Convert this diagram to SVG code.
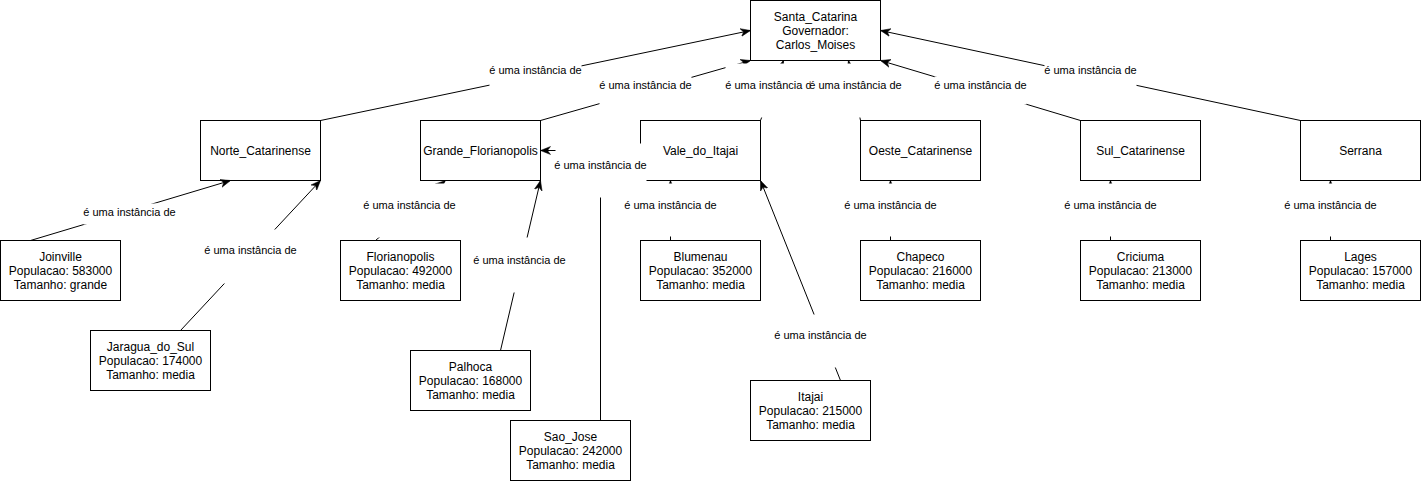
<svg xmlns="http://www.w3.org/2000/svg" width="1421" height="481" viewBox="0 0 1421 481">
<style>
.n rect{fill:#fff;stroke:#000;stroke-width:1}
.n text{font-family:"Liberation Sans",Arial,Helvetica,sans-serif;font-size:12px;fill:#000;text-anchor:middle}
.e{fill:none;stroke:#000;stroke-width:1;marker-end:url(#arr)}
.lb{fill:#fff;stroke:none}
.lt{font-family:"Liberation Sans",Arial,Helvetica,sans-serif;font-size:11px;fill:#000;text-anchor:middle}
</style>
<defs>
<marker id="arr" markerUnits="userSpaceOnUse" markerWidth="11" markerHeight="9" refX="10" refY="4.5" orient="auto" viewBox="0 0 11 9">
<path d="M0,0.5 L10,4.5 L0,8.5 L3,4.5 Z" fill="#000" stroke="#000" stroke-width="0.5"/>
</marker>
</defs>
<rect x="0" y="0" width="1421" height="481" fill="#fff"/>
<g transform="translate(0.5,0.5)">
<g id="Santa_Catarina" class="n"><rect x="750" y="0" width="130" height="60"/><text x="815" y="20">Santa_Catarina</text><text x="815" y="34">Governador:</text><text x="815" y="48">Carlos_Moises</text></g>
<g id="Norte_Catarinense" class="n"><rect x="200" y="120" width="120" height="60"/><text x="260" y="154">Norte_Catarinense</text></g>
<g id="Grande_Florianopolis" class="n"><rect x="420" y="120" width="120" height="60"/><text x="480" y="154">Grande_Florianopolis</text></g>
<g id="Vale_do_Itajai" class="n"><rect x="640" y="120" width="120" height="60"/><text x="700" y="154">Vale_do_Itajai</text></g>
<g id="Oeste_Catarinense" class="n"><rect x="860" y="120" width="120" height="60"/><text x="920" y="154">Oeste_Catarinense</text></g>
<g id="Sul_Catarinense" class="n"><rect x="1080" y="120" width="120" height="60"/><text x="1140" y="154">Sul_Catarinense</text></g>
<g id="Serrana" class="n"><rect x="1300" y="120" width="120" height="60"/><text x="1360" y="154">Serrana</text></g>
<g id="Joinville" class="n"><rect x="0" y="240" width="120" height="60"/><text x="60" y="260">Joinville</text><text x="60" y="274">Populacao: 583000</text><text x="60" y="288">Tamanho: grande</text></g>
<g id="Jaragua_do_Sul" class="n"><rect x="90" y="330" width="120" height="60"/><text x="150" y="350">Jaragua_do_Sul</text><text x="150" y="364">Populacao: 174000</text><text x="150" y="378">Tamanho: media</text></g>
<g id="Florianopolis" class="n"><rect x="340" y="240" width="120" height="60"/><text x="400" y="260">Florianopolis</text><text x="400" y="274">Populacao: 492000</text><text x="400" y="288">Tamanho: media</text></g>
<g id="Palhoca" class="n"><rect x="410" y="350" width="120" height="60"/><text x="470" y="370">Palhoca</text><text x="470" y="384">Populacao: 168000</text><text x="470" y="398">Tamanho: media</text></g>
<g id="Sao_Jose" class="n"><rect x="510" y="420" width="120" height="60"/><text x="570" y="440">Sao_Jose</text><text x="570" y="454">Populacao: 242000</text><text x="570" y="468">Tamanho: media</text></g>
<g id="Blumenau" class="n"><rect x="640" y="240" width="120" height="60"/><text x="700" y="260">Blumenau</text><text x="700" y="274">Populacao: 352000</text><text x="700" y="288">Tamanho: media</text></g>
<g id="Itajai" class="n"><rect x="750" y="380" width="120" height="60"/><text x="810" y="400">Itajai</text><text x="810" y="414">Populacao: 215000</text><text x="810" y="428">Tamanho: media</text></g>
<g id="Chapeco" class="n"><rect x="860" y="240" width="120" height="60"/><text x="920" y="260">Chapeco</text><text x="920" y="274">Populacao: 216000</text><text x="920" y="288">Tamanho: media</text></g>
<g id="Criciuma" class="n"><rect x="1080" y="240" width="120" height="60"/><text x="1140" y="260">Criciuma</text><text x="1140" y="274">Populacao: 213000</text><text x="1140" y="288">Tamanho: media</text></g>
<g id="Lages" class="n"><rect x="1300" y="240" width="120" height="60"/><text x="1360" y="260">Lages</text><text x="1360" y="274">Populacao: 157000</text><text x="1360" y="288">Tamanho: media</text></g>
<g id="connectors">
<path class="e" d="M320,120 L750,30"/><rect class="lb" x="489" y="62" width="92" height="27"/><text class="lt" x="535" y="73">é uma instância de</text>
<path class="e" d="M540,120 L750,60"/><rect class="lb" x="599" y="76" width="92" height="29"/><text class="lt" x="645" y="88">é uma instância de</text>
<path class="e" d="M760,120 L783,60"/><rect class="lb" x="725" y="63" width="92" height="54"/><text class="lt" x="771" y="88">é uma instância de</text>
<path class="e" d="M860,120 L848,60"/><rect class="lb" x="810" y="63" width="90" height="54"/><text class="lt" x="855" y="88">é uma instância de</text>
<path class="e" d="M1080,120 L880,60"/><rect class="lb" x="934" y="76" width="92" height="28"/><text class="lt" x="980" y="88">é uma instância de</text>
<path class="e" d="M1300,120 L880,30"/><rect class="lb" x="1044" y="62" width="92" height="26"/><text class="lt" x="1090" y="73">é uma instância de</text>
<path class="e" d="M30,240 L230,180"/><rect class="lb" x="83" y="203" width="92" height="21"/><text class="lt" x="129" y="215">é uma instância de</text>
<path class="e" d="M180,330 L320,180"/><rect class="lb" x="204" y="229" width="92" height="54"/><text class="lt" x="250" y="253">é uma instância de</text>
<path class="e" d="M375,240 L445,180"/><rect class="lb" x="363" y="183" width="92" height="54"/><text class="lt" x="409" y="208">é uma instância de</text>
<path class="e" d="M500,350 L540,180"/><rect class="lb" x="473" y="237" width="92" height="55"/><text class="lt" x="519" y="263">é uma instância de</text>
<path class="e" d="M600,420 L600,150 L540,150"/><rect class="lb" x="555" y="143" width="91" height="54"/><text class="lt" x="600" y="168">é uma instância de</text>
<path class="e" d="M670,240 L670,180"/><rect class="lb" x="624" y="183" width="92" height="53"/><text class="lt" x="670" y="208">é uma instância de</text>
<path class="e" d="M840,380 L760,180"/><rect class="lb" x="774" y="314" width="92" height="53"/><text class="lt" x="820" y="338">é uma instância de</text>
<path class="e" d="M890,240 L890,180"/><rect class="lb" x="844" y="183" width="92" height="53"/><text class="lt" x="890" y="208">é uma instância de</text>
<path class="e" d="M1110,240 L1110,180"/><rect class="lb" x="1064" y="183" width="92" height="53"/><text class="lt" x="1110" y="208">é uma instância de</text>
<path class="e" d="M1330,240 L1330,180"/><rect class="lb" x="1284" y="183" width="92" height="53"/><text class="lt" x="1330" y="208">é uma instância de</text>
</g>
</g>
</svg>
